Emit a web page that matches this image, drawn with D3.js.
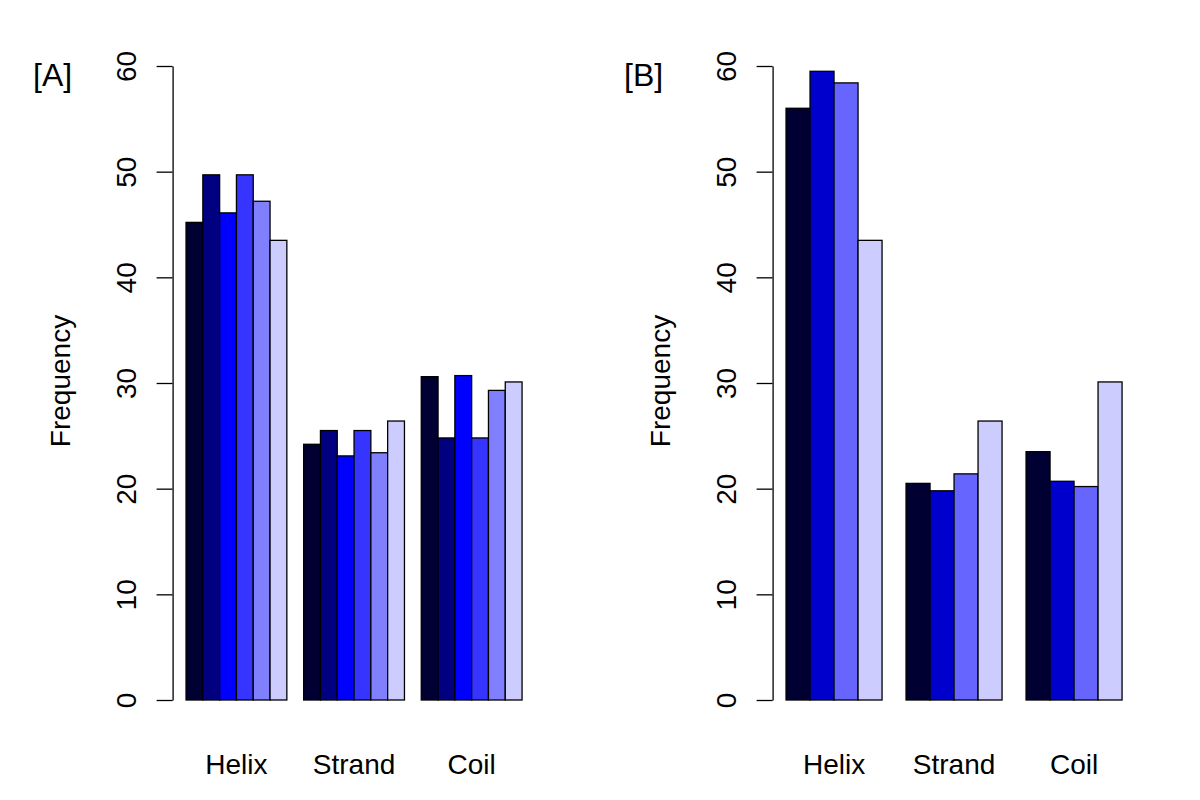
<!DOCTYPE html>
<html>
<head>
<meta charset="utf-8">
<script src="https://cdn.jsdelivr.net/npm/d3@7"></script>
<style>
  html, body { margin: 0; padding: 0; background: #fff; }
  svg { display: block; }
  text { font-family: "Liberation Sans", Arial, Helvetica, sans-serif; fill: #000; }
</style>
</head>
<body>
<svg id="chart" width="1200" height="800"></svg>
<script>
// ---- data ----
const categories = ["Helix", "Strand", "Coil"];
const yTicks = [0, 10, 20, 30, 40, 50, 60];

// Panel A: 6 series per category
const panelA_Helix  = [45.2, 49.7, 46.1, 49.7, 47.2, 43.5];
const panelA_Strand = [24.2, 25.5, 23.1, 25.5, 23.4, 26.4];
const panelA_Coil   = [30.6, 24.8, 30.7, 24.8, 29.3, 30.1];
const panelA_colors = ["#000033", "#000080", "#0000FF", "#3535FF", "#8080FF", "#CCCCFF"];

// Panel B: 4 series per category
const panelB_Helix  = [56.0, 59.5, 58.4, 43.5];
const panelB_Strand = [20.5, 19.8, 21.4, 26.4];
const panelB_Coil   = [23.5, 20.7, 20.2, 30.1];
const panelB_colors = ["#000033", "#0000CC", "#6666FF", "#CCCCFF"];

const panels = [
  { label: "[A]", offset: 0,   labelX: 33,  groups: [panelA_Helix, panelA_Strand, panelA_Coil], colors: panelA_colors },
  { label: "[B]", offset: 600, labelX: 624, groups: [panelB_Helix, panelB_Strand, panelB_Coil], colors: panelB_colors }
];

// ---- drawing ----
const svg = d3.select("#chart");
const FS = 28;
const plotLeft = 172.6, plotRight = 535.5;
const y = d3.scaleLinear().domain([0, 60]).range([700, 66]);

panels.forEach(p => {
  const n = p.groups[0].length;
  const lo = 1, hi = categories.length * (n + 1); // bars span units lo..hi
  const ext = (hi - lo) * 0.04;
  const x = d3.scaleLinear()
    .domain([lo - ext, hi + ext])
    .range([plotLeft + p.offset, plotRight + p.offset]);

  const g = svg.append("g");

  // bars
  p.groups.forEach((vals, gi) => {
    const start = 1 + gi * (n + 1);
    g.selectAll(null)
      .data(vals)
      .enter()
      .append("rect")
      .attr("x", (d, j) => x(start + j))
      .attr("width", (d, j) => x(start + j + 1) - x(start + j))
      .attr("y", d => y(d))
      .attr("height", d => y(0) - y(d))
      .attr("fill", (d, j) => p.colors[j])
      .attr("stroke", "#000")
      .attr("stroke-width", 1.3);

    // category label
    g.append("text")
      .attr("x", x(start + n / 2))
      .attr("y", 774)
      .attr("text-anchor", "middle")
      .attr("font-size", FS)
      .text(categories[gi]);
  });

  // y axis
  const axisX = x(lo - ext);
  const ax = g.append("g")
    .attr("transform", `translate(${axisX},0)`)
    .call(d3.axisLeft(y).tickValues(yTicks).tickSize(16).tickSizeOuter(0).tickFormat(d3.format("d")));
  ax.select(".domain").attr("stroke", "#000").attr("stroke-width", 1.3);
  ax.selectAll(".tick line").attr("stroke", "#000").attr("stroke-width", 1.3);
  ax.selectAll(".tick text")
    .attr("x", null).attr("dy", null)
    .attr("transform", "translate(-36.5,0) rotate(-90)")
    .attr("text-anchor", "middle")
    .attr("font-size", FS)
    .attr("font-family", "Liberation Sans, Arial, sans-serif")
    .attr("fill", "#000");

  // y label
  g.append("text")
    .attr("transform", `translate(${70 + p.offset},381) rotate(-90)`)
    .attr("text-anchor", "middle")
    .attr("font-size", FS)
    .text("Frequency");

  // panel label
  g.append("text")
    .attr("x", p.labelX)
    .attr("y", 86)
    .attr("font-size", 32)
    .text(p.label);
});
</script>
</body>
</html>
